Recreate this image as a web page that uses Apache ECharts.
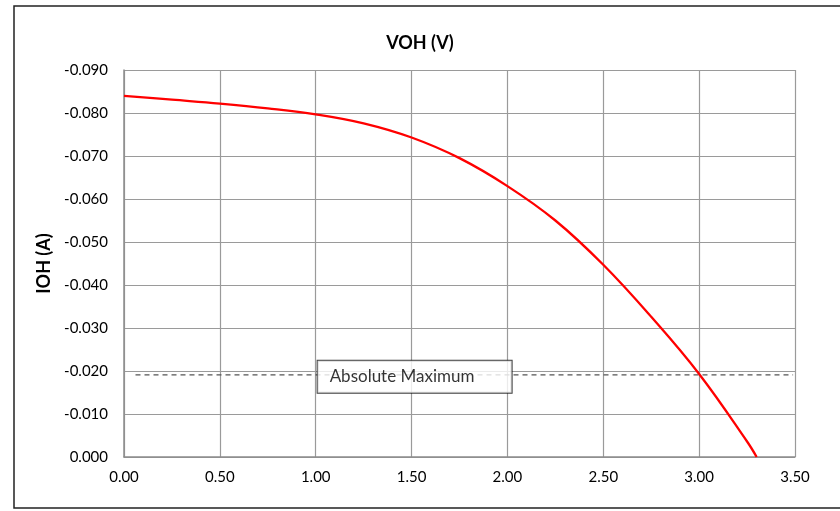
<!DOCTYPE html>
<html>
<head>
<meta charset="utf-8">
<script src="https://cdn.jsdelivr.net/npm/echarts@6/dist/echarts.min.js"></script>
<style>
html,body{margin:0;padding:0;background:#fff;}
#main{width:840px;height:511px;}
</style>
</head>
<body>
<div id="main"></div>
<script>
// Data
var voh = [0, 0.25, 0.5, 0.75, 1.0, 1.25, 1.5, 1.75, 2.0, 2.25, 2.5, 2.75, 3.0, 3.25, 3.3];
var ioh = [-0.0840, -0.0831, -0.0822, -0.0811, -0.0797, -0.0776, -0.0743, -0.0695, -0.0630, -0.0550, -0.0447, -0.0326, -0.0193, -0.0036, 0.0];
var absMaxLevel = -0.0191;
var absMaxRange = [0.06, 3.49];
var absMaxLabelX = 1.01;
var absMaxText = 'Absolute Maximum';

var curve = voh.map(function (v, i) { return [v, ioh[i]]; });
var absLine = absMaxRange.map(function (v) { return [v, absMaxLevel]; });

var font = 'Lato, "Open Sans", "Liberation Sans", sans-serif';
var chart = echarts.init(document.getElementById('main'), null, {renderer: 'canvas'});

chart.setOption({
  animation: false,
  backgroundColor: '#fff',
  textStyle: {fontFamily: font},
  title: {
    text: 'VOH (V)',
    left: 'center', top: 29,
    textStyle: {fontFamily: font, fontSize: 18, fontWeight: 'bold', color: '#000'}
  },
  graphic: [{
    type: 'rect',
    shape: {x: 14, y: 6, width: 840, height: 502},
    style: {fill: 'none', stroke: '#222', lineWidth: 1.5},
    silent: true, z: 0
  }],
  grid: {left: 124, right: 45, top: 70, bottom: 54, containLabel: false},
  xAxis: {
    type: 'value', min: 0, max: 3.5, interval: 0.5, position: 'bottom',
    axisLine: {show: true, onZero: false, lineStyle: {color: '#8c8c8c', width: 1.5}},
    axisTick: {show: false},
    axisLabel: {margin: 13, fontSize: 15, color: '#000', fontFamily: font,
      formatter: function (v) { return v.toFixed(2); }},
    splitLine: {show: true, lineStyle: {color: '#9a9a9a', width: 1.2}}
  },
  yAxis: {
    type: 'value', inverse: true, min: -0.09, max: 0, interval: 0.01,
    name: 'IOH (A)', nameLocation: 'middle', nameGap: 68, nameRotate: 90,
    nameTextStyle: {fontFamily: font, fontSize: 18, fontWeight: 'bold', color: '#000'},
    axisLine: {show: true, onZero: false, lineStyle: {color: '#8c8c8c', width: 1.5}},
    axisTick: {show: false},
    axisLabel: {margin: 16, fontSize: 15, color: '#000', fontFamily: font,
      formatter: function (v) { return (Math.abs(v) < 1e-9 ? 0 : v).toFixed(3); }},
    splitLine: {show: true, lineStyle: {color: '#9a9a9a', width: 1.2}}
  },
  series: [
    {
      name: 'Absolute Maximum line', type: 'line', data: absLine,
      symbol: 'none', silent: true, z: 3,
      lineStyle: {color: '#555', width: 1.3, type: [5, 4]}
    },
    {
      name: 'IOH', type: 'line', data: curve, smooth: 0.4,
      symbol: 'none', z: 4,
      lineStyle: {color: '#ff0000', width: 2.3}
    },
    {
      name: 'label', type: 'scatter', data: [[absMaxLabelX, absMaxLevel]],
      symbolSize: 0, silent: true, z: 6,
      label: {
        show: true, position: 'inside', formatter: absMaxText,
        fontFamily: font, fontSize: 17, color: '#000',
        backgroundColor: '#fff', borderColor: '#111', borderWidth: 1,
        padding: [6, 12, 6, 12], width: 170, lineHeight: 20,
        align: 'left', verticalAlign: 'middle',
        offset: [0, 2]
      }
    }
  ]
});
</script>
</body>
</html>
